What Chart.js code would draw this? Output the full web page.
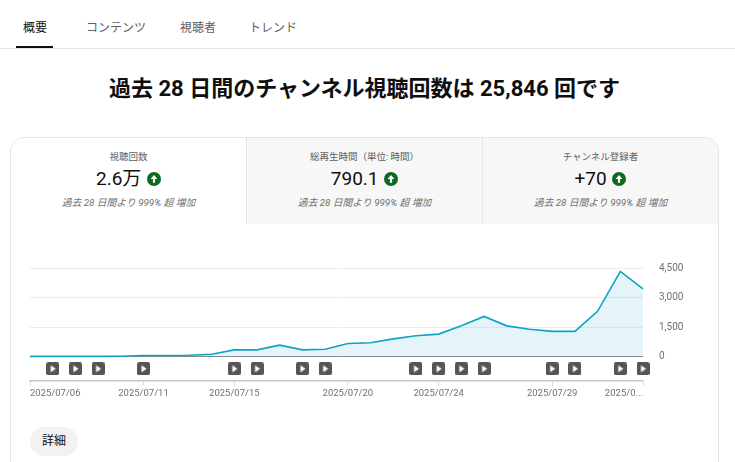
<!DOCTYPE html>
<html lang="ja">
<head>
<meta charset="utf-8">
<title>チャンネル アナリティクス</title>
<script src="https://cdn.jsdelivr.net/npm/chart.js@4"></script>
<style>
    html, body { margin: 0; padding: 0; width: 735px; height: 462px; overflow: hidden; background: #fff; }
    body { position: relative; font-family: Roboto, "Noto Sans CJK JP", sans-serif; color: #0f0f0f; }
    .abs { position: absolute; white-space: nowrap; }
    .tab { top: 20px; font-size: 12px; line-height: 16px; color: #606060; transform: translateX(-50%); }
    #tabLine { left: 0; top: 48px; width: 735px; height: 1px; background: #e5e5e5; }
    #tabActive { left: 16px; top: 46px; width: 37px; height: 2px; background: #0f0f0f; }
    #headline { left: 0; width: 729px; top: 74px; text-align: center; font-size: 22px; line-height: 30px; font-weight: 700; }
    #card { left: 10px; top: 137px; width: 707px; height: 400px; border: 1px solid #e5e5e5; border-radius: 14px; box-sizing: content-box; overflow: hidden; }
    .cell { position: absolute; top: 0; height: 86px; width: 236px; text-align: center; background: #f7f7f7; border-left: 1px solid #e5e5e5; box-sizing: border-box; }
    .cell.first { background: #fff; border-left: 0; width: 235px; }
    .cell .name { position: absolute; left: 0; right: 0; top: 12px; font-size: 9.5px; line-height: 14px; color: #606060; }
    .cell .num { position: absolute; left: 0; right: 0; top: 27px; font-size: 19px; line-height: 27px; }
    .cell .num svg { vertical-align: -1px; margin-left: 1px; }
    .cell .sub { position: absolute; left: 0; right: 0; top: 58px; font-size: 9.8px; line-height: 14px; font-style: italic; color: #707070; }
    #chartBox { left: 0; top: 246px; width: 735px; height: 164px; }
    #more { left: 30px; top: 427px; width: 48px; height: 29px; border-radius: 15px; background: #f2f2f2; font-size: 12px; line-height: 28px; text-align: center; }
</style>
</head>
<body>
<div class="abs tab" style="left:35px;color:#0f0f0f">概要</div>
<div class="abs tab" style="left:116px">コンテンツ</div>
<div class="abs tab" style="left:198px">視聴者</div>
<div class="abs tab" style="left:273px">トレンド</div>
<div class="abs" id="tabLine"></div>
<div class="abs" id="tabActive"></div>
<div class="abs" id="headline">過去 28 日間のチャンネル視聴回数は 25,846 回です</div>
<div class="abs" id="card"></div>
<div class="abs" id="chartBox"><canvas id="viewsChart" width="735" height="164"></canvas></div>
<div class="abs" id="more">詳細</div>

<script>
// Données du graphique
const dates = [
    '2025/07/06', '2025/07/07', '2025/07/08', '2025/07/09', '2025/07/10', '2025/07/11', '2025/07/12',
    '2025/07/13', '2025/07/14', '2025/07/15', '2025/07/16', '2025/07/17', '2025/07/18', '2025/07/19',
    '2025/07/20', '2025/07/21', '2025/07/22', '2025/07/23', '2025/07/24', '2025/07/25', '2025/07/26',
    '2025/07/27', '2025/07/28', '2025/07/29', '2025/07/30', '2025/07/31', '2025/08/01', '2025/08/02'
];
const views = [
    10, 10, 10, 10, 15, 50, 55,
    70, 120, 340, 340, 580, 340, 375,
    660, 700, 900, 1060, 1140, 1560, 2040,
    1560, 1390, 1280, 1280, 2300, 4330, 3440
];
const videoDates = [
    '2025/07/07', '2025/07/08', '2025/07/09', '2025/07/11', '2025/07/15', '2025/07/16', '2025/07/18', '2025/07/19',
    '2025/07/23', '2025/07/24', '2025/07/25', '2025/07/26', '2025/07/29', '2025/07/30', '2025/08/01', '2025/08/02'
];
const labeledDates = ['2025/07/06', '2025/07/11', '2025/07/15', '2025/07/20', '2025/07/24', '2025/07/29', '2025/08/02'];
const yTicks = [0, 1500, 3000, 4500];
const yMin = -1227;
const markerRow = -620;

const stats = [
    { name: '視聴回数', value: '2.6万' },
    { name: '総再生時間（単位: 時間）', value: '790.1' },
    { name: 'チャンネル登録者', value: '+70' }
];

// Cartes de statistiques
const arrowIcon = '<svg width="14" height="14" viewBox="0 0 14 14"><circle cx="7" cy="7" r="7" fill="#0b6a1e"/>' +
    '<path d="M7 3 L10.4 6.9 H8.1 V10.8 H5.9 V6.9 H3.6 Z" fill="#fff"/></svg>';
const card = document.getElementById('card');
stats.forEach((s, i) => {
    const cell = document.createElement('div');
    cell.className = 'cell' + (i === 0 ? ' first' : '');
    cell.style.left = (i === 0 ? 0 : i * 236 - 1) + 'px';
    cell.innerHTML = '<div class="name">' + s.name + '</div>' +
        '<div class="num">' + s.value + ' ' + arrowIcon + '</div>' +
        '<div class="sub">過去 28 日間より 999% 超 増加</div>';
    card.appendChild(cell);
});

// Icône de vidéo utilisée comme style de point
function makePlayIcon() {
    const c = document.createElement('canvas');
    c.width = 13;
    c.height = 13;
    const g = c.getContext('2d');
    g.fillStyle = '#555555';
    g.beginPath();
    g.roundRect(0, 0, 13, 13, 2);
    g.fill();
    g.fillStyle = '#ffffff';
    g.beginPath();
    g.moveTo(4.5, 3);
    g.lineTo(9.5, 6.5);
    g.lineTo(4.5, 10);
    g.closePath();
    g.fill();
    return c;
}
const playIcon = makePlayIcon();

const ctx = document.getElementById('viewsChart').getContext('2d');
new Chart(ctx, {
    type: 'line',
    data: {
        labels: dates,
        datasets: [
            {
                data: views,
                borderColor: '#0ea2c7',
                borderWidth: 1.6,
                backgroundColor: 'rgba(14, 162, 199, 0.115)',
                fill: 'origin',
                tension: 0,
                pointRadius: 0
            },
            {
                data: dates.map(d => videoDates.includes(d) ? markerRow : null),
                showLine: false,
                pointStyle: playIcon,
                pointRadius: 6.5,
                clip: false
            }
        ]
    },
    options: {
        responsive: false,
        animation: false,
        layout: { padding: { left: 30, top: 9, right: 0, bottom: 0 } },
        plugins: { legend: { display: false }, tooltip: { enabled: false } },
        scales: {
            x: {
                grid: { drawOnChartArea: false, tickLength: 5, tickColor: '#dddddd' },
                border: { color: '#c8c8c8', width: 1.5 },
                afterBuildTicks: axis => {
                    axis.ticks = labeledDates.map(d => ({ value: dates.indexOf(d) }));
                },
                afterFit: axis => { axis.height = 29.3; },
                ticks: {
                    autoSkip: false,
                    maxRotation: 0,
                    align: 'inner',
                    padding: 2,
                    color: '#707070',
                    font: { family: 'Roboto', size: 9.5 },
                    callback: function (value) {
                        const label = this.getLabelForValue(value);
                        return label === '2025/08/02' ? '2025/0...' : label;
                    }
                }
            },
            y: {
                position: 'right',
                min: yMin,
                max: 4500,
                afterBuildTicks: axis => {
                    axis.ticks = yTicks.map(v => ({ value: v }));
                },
                afterFit: axis => { axis.width = 92; },
                grid: {
                    drawTicks: false,
                    color: c => c.tick && c.tick.value === 0 ? '#8a8a8a' : '#ececec'
                },
                border: { display: false },
                ticks: {
                    padding: 16,
                    color: '#707070',
                    font: { family: 'Roboto', size: 10 },
                    callback: value => value.toLocaleString('en-US')
                }
            }
        }
    }
});
</script>
</body>
</html>
